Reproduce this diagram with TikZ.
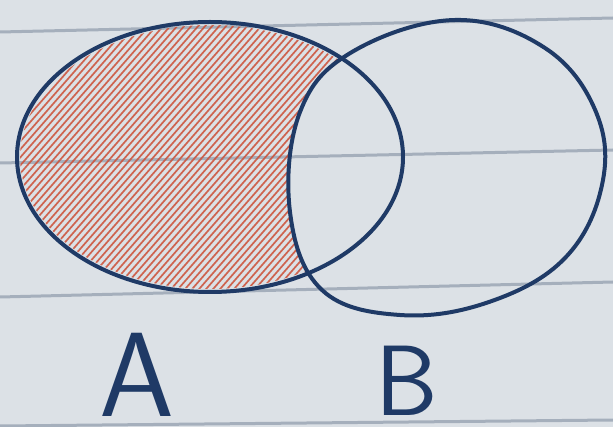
\documentclass[tikz,border=0pt]{standalone}
\begin{document}
\begin{tikzpicture}[x=1pt,y=-1pt]
\definecolor{paper}{HTML}{DCE1E6}
\definecolor{rule}{HTML}{8E9BAB}
\definecolor{ink}{HTML}{1F3A66}
\definecolor{hatch}{HTML}{CC4E35}
\tikzset{
  paperline/.style={rule, line width=3pt, opacity=0.7},
  setline/.style={ink, line width=4pt},
  hatchline/.style={hatch, line width=1.7pt, line cap=round, opacity=0.85},
  labA/.style={ink, anchor=base, inner sep=0pt, font=\fontsize{120}{120}\selectfont\sffamily},
  labB/.style={ink, anchor=base, inner sep=0pt, font=\fontsize{100}{100}\selectfont\sffamily}
}
\fill[paper] (0,0) rectangle (613,427);
\useasboundingbox (0,0) rectangle (613,427);
% paper rules
\draw[paperline] (0,32) -- (613,18);
\draw[paperline] (0,163) -- (613,150);
\draw[paperline] (0,297) -- (613,282);
\draw[paperline] (0,426) -- (613,420);
% hatch: A minus B
\begin{scope}[even odd rule]
  \clip (210,157) ellipse [x radius=190, y radius=132];
  \clip (-10,-10) rectangle (700,500) plot[smooth cycle, tension=0.65] coordinates {(300,112) (352,52) (455,20) (545,48) (596,112) (602,185) (565,258) (489,302) (400,315) (322,290) (290,212)};
  \foreach \i in {-30,...,70}{
    \draw[hatchline] (\i*7-150,320) -- (\i*7+130,0);
  }
\end{scope}
% sets
\draw[setline] (210,157) ellipse [x radius=193, y radius=135];
\draw[setline] plot[smooth cycle, tension=0.65] coordinates {(300,112) (352,52) (455,20) (545,48) (596,112) (602,185) (565,258) (489,302) (400,315) (322,290) (290,212)};
% labels
\node[labA] (lA) at (137,417) {A};
\node[labB] (lB) at (407,415) {B};
\end{tikzpicture}
\end{document}
